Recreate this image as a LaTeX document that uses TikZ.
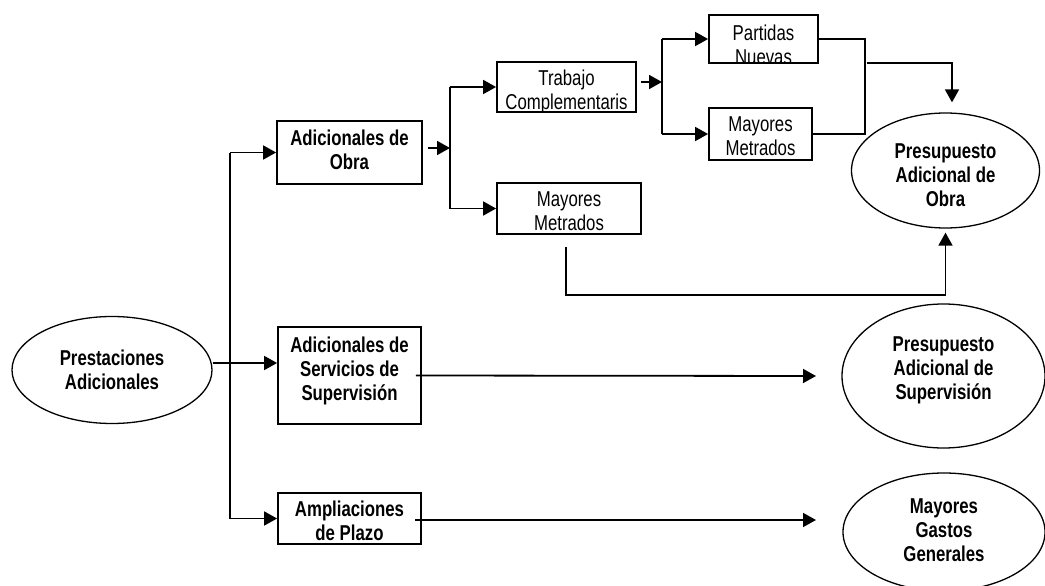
\documentclass[tikz,border=0pt]{standalone}
\usepackage{fontspec}
\setmainfont[FakeStretch=0.78]{Liberation Sans}
\usetikzlibrary{arrows.meta,shapes.geometric,calc}

\begin{document}
\begin{tikzpicture}[x=1pt,y=-1pt,
  ln/.style={line width=1.8pt},
  arr/.style={ln,-{Triangle[length=13pt,width=14pt]}},
  box/.style={draw,line width=1.8pt,rectangle,inner sep=0pt},
  oval/.style={draw,line width=1.3pt,ellipse,inner sep=0pt},
  txt/.style={align=center,inner sep=0pt,font=\fontsize{21.5}{24}\selectfont},
  btxt/.style={align=center,inner sep=0pt,font=\fontsize{21.5}{24}\selectfont\bfseries}]

\useasboundingbox (0,0) rectangle (1045,586);
\clip (0,0) rectangle (1045,586);

% boxes (text is clipped to the frame)
\node[box,minimum width=145,minimum height=63,
  path picture={\node[btxt,yshift=2.5pt] at (path picture bounding box.center) {Adicionales de\\Obra};}]
  (obra) at (349.5,152.5) {};
\node[box,minimum width=143,minimum height=97,
  path picture={\node[btxt,yshift=4.5pt] at (path picture bounding box.center) {Adicionales de\\Servicios de\\Supervisión};}]
  (serv) at (349.5,375.5) {};
\node[box,minimum width=143,minimum height=51,
  path picture={\node[btxt,yshift=-2pt] at (path picture bounding box.center) {Ampliaciones\\de Plazo};}]
  (plazo) at (349.5,518.5) {};
\node[box,minimum width=139,minimum height=50,
  path picture={\node[txt,yshift=-4.5pt] at (path picture bounding box.center) {Trabajo\\Complementaris};}]
  (trab) at (566.5,87) {};
\node[box,minimum width=144,minimum height=51,
  path picture={\node[txt,yshift=-3pt] at (path picture bounding box.center) {Mayores\\Metrados};}]
  (mml) at (569,208.5) {};
\node[box,minimum width=109,minimum height=48,
  path picture={\node[txt,yshift=-5.5pt] at (path picture bounding box.center) {Partidas\\Nuevas};}]
  (part) at (763.5,39) {};
\node[box,minimum width=103,minimum height=52,
  path picture={\node[txt,yshift=-2pt] at (path picture bounding box.center) {Mayores\\Metrados};}]
  (mmu) at (760.5,134) {};

% ellipses
\node[oval,minimum width=200,minimum height=107,
  path picture={\node[btxt,yshift=0pt] at (path picture bounding box.center) {Prestaciones\\Adicionales};}]
  (pres) at (112,370) {};
\node[oval,minimum width=188,minimum height=115,
  path picture={\node[btxt,yshift=-5pt] at (path picture bounding box.center) {Presupuesto\\Adicional de\\Obra};}]
  (pobra) at (945.5,170.5) {};
\node[oval,minimum width=203,minimum height=144,
  path picture={\node[btxt,yshift=6pt] at (path picture bounding box.center) {Presupuesto\\Adicional de\\Supervisión};}]
  (psup) at (943.5,376) {};
\node[oval,minimum width=202,minimum height=118,
  path picture={\node[btxt,yshift=1.5pt] at (path picture bounding box.center) {Mayores\\Gastos\\Generales};}]
  (mgg) at (944,532) {};

% junction points
\coordinate (j0) at (230,363);
\coordinate (trunk) at (230,0);
\coordinate (s1) at (450,148);
\coordinate (s2) at (662,82);
\coordinate (m) at (865,0);
\coordinate (m2) at (867,63);
\coordinate (b1) at (566,247);
\coordinate (b2) at (566,295);
\coordinate (e2) at (816,376);
\coordinate (e3) at (816,520);
\coordinate (f3) at (415,520);

% main branch
\draw[arr] (pres.east |- j0) -- (serv.west |- j0);
\draw[ln] (trunk |- obra.west) -- (trunk |- plazo.west);
\draw[arr] (trunk |- obra.west) -- (obra.west);
\draw[arr] (trunk |- plazo.west) -- (plazo.west);

% works branch
\draw[arr] ([xshift=5pt]obra.east |- s1) -- (s1);
\draw[ln] (s1 |- trab.west) -- (s1 |- mml.west);
\draw[arr] (s1 |- trab.west) -- (trab.west);
\draw[arr] (s1 |- mml.west) -- (mml.west);

\draw[arr] ([xshift=4pt]trab.east |- s2) -- (s2);
\draw[ln] (s2 |- part.west) -- (s2 |- mmu.west);
\draw[arr] (s2 |- part.west) -- (part.west);
\draw[arr] (s2 |- mmu.west) -- (mmu.west);

\draw[ln] (part.east) -- (m |- part.east) -- (m |- mmu.east) -- (mmu.east);
\draw[arr] (m2) -| ([xshift=6.5pt,yshift=10pt]pobra.north);

\draw[arr] (b1) -- (b2) -| ([yshift=-4pt]pobra.south);

% outputs
\draw[arr] ([xshift=-6pt]serv.east) -- (e2);
\draw[arr] (f3) -- (e3);
\end{tikzpicture}
\end{document}
